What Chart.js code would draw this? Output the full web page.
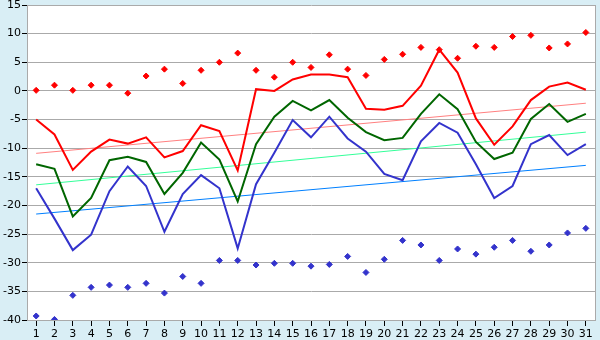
<!DOCTYPE html>
<html>
<head>
<meta charset="utf-8">
<script src="https://cdn.jsdelivr.net/npm/chart.js@4/dist/chart.umd.min.js"></script>
<style>
  html, body { margin: 0; padding: 0; background: #d9eef5; }
  #wrap { width: 600px; height: 340px; position: relative; }
</style>
</head>
<body>
<div id="wrap"><canvas id="chart"></canvas></div>
<script>
// day labels
var days = ['1','2','3','4','5','6','7','8','9','10','11','12','13','14','15','16',
    '17','18','19','20','21','22','23','24','25','26','27','28','29','30','31'];

// lines
var maxTemp = [-5.0, -7.6, -13.8, -10.6, -8.5, -9.2, -8.1, -11.6, -10.5, -6.0, -7.0, -13.9, 0.3, 0.0, 2.0, 2.85,
    2.85, 2.4, -3.1, -3.3, -2.6, 0.9, 7.2, 3.2, -4.8, -9.4, -6.2, -1.6, 0.75, 1.45, 0.2];
var meanTemp = [-12.8, -13.6, -21.9, -18.7, -12.1, -11.5, -12.4, -18.0, -14.3, -9.0, -12.0, -19.3, -9.3, -4.5, -1.75, -3.4,
    -1.6, -4.7, -7.2, -8.6, -8.2, -4.0, -0.6, -3.2, -8.9, -11.9, -10.8, -4.9, -2.3, -5.4, -4.0];
var minTemp = [-17.0, -22.3, -27.8, -25.1, -17.5, -13.2, -16.6, -24.6, -18.0, -14.7, -17.0, -27.5, -16.3, -10.8, -5.1, -8.1,
    -4.5, -8.3, -10.6, -14.5, -15.6, -8.8, -5.6, -7.3, -12.8, -18.7, -16.6, -9.3, -7.7, -11.2, -9.3];

// extreme points
var recordHigh = [0.1, 1.0, 0.1, 1.0, 1.0, -0.4, 2.6, 3.8, 1.3, 3.6, 5.0, 6.6, 3.6, 2.4, 5.0, 4.1,
    6.3, 3.8, 2.7, 5.5, 6.4, 7.6, 7.2, 5.7, 7.8, 7.6, 9.5, 9.7, 7.5, 8.2, 10.2];
var recordLow = [-39.3, -39.9, -35.7, -34.3, -33.9, -34.3, -33.6, -35.3, -32.4, -33.6, -29.6, -29.6, -30.4, -30.1, -30.1, -30.6,
    -30.3, -28.9, -31.7, -29.4, -26.1, -26.9, -29.6, -27.6, -28.5, -27.3, -26.1, -28.0, -26.9, -24.8, -24.0];

// trend lines: value at day 1 and day 31
var maxTrend = [-10.9, -2.15];
var meanTrend = [-16.4, -7.2];
var minTrend = [-21.5, -13.0];

var yTicks = [15, 10, 5, 0, -5, -10, -15, -20, -25, -30, -35, -40];

function trendData(ends) {
    var arr = days.map(function () { return null; });
    arr[0] = ends[0];
    arr[arr.length - 1] = ends[1];
    return arr;
}

var plotBg = {
    id: 'plotBg',
    beforeDraw: function (chart) {
        var a = chart.chartArea;
        var ctx = chart.ctx;
        ctx.save();
        ctx.fillStyle = '#ffffff';
        ctx.fillRect(a.left, a.top, a.right - a.left, a.bottom - a.top);
        ctx.restore();
    },
    afterDraw: function (chart) {
        var a = chart.chartArea;
        var ctx = chart.ctx;
        ctx.save();
        ctx.strokeStyle = '#aaaaaa';
        ctx.lineWidth = 1;
        ctx.beginPath();
        ctx.moveTo(Math.round(a.right) + 0.5, a.top);
        ctx.lineTo(Math.round(a.right) + 0.5, a.bottom);
        ctx.stroke();
        ctx.restore();
    }
};

function lineSet(data, color, width) {
    return {
        data: data,
        borderColor: color,
        backgroundColor: color,
        borderWidth: width,
        pointRadius: 0,
        tension: 0,
        fill: false,
        spanGaps: true
    };
}

function pointSet(data, color) {
    return {
        data: data,
        showLine: false,
        borderColor: color,
        backgroundColor: color,
        pointStyle: 'rectRot',
        pointRadius: 3,
        pointBorderWidth: 1
    };
}

Chart.defaults.font.family = '"DejaVu Sans", Verdana, sans-serif';
Chart.defaults.font.size = 11;
Chart.defaults.color = '#000000';

new Chart(document.getElementById('chart'), {
    type: 'line',
    data: {
        labels: days,
        datasets: [
            pointSet(recordHigh, '#ff0000'),
            pointSet(recordLow, '#3333cc'),
            lineSet(maxTemp, '#ff0000', 2),
            lineSet(meanTemp, '#006600', 2),
            lineSet(minTemp, '#3333cc', 2),
            lineSet(trendData(maxTrend), '#ff8080', 1),
            lineSet(trendData(meanTrend), '#33ff99', 1),
            lineSet(trendData(minTrend), '#0080ff', 1)
        ]
    },
    options: {
        responsive: true,
        maintainAspectRatio: false,
        animation: false,
        layout: { padding: { top: 5, right: 5, left: 0, bottom: 0 } },
        plugins: {
            legend: { display: false },
            tooltip: { enabled: false }
        },
        scales: {
            x: {
                type: 'category',
                offset: true,
                border: { color: '#aaaaaa' },
                grid: {
                    offset: false,
                    drawOnChartArea: false,
                    drawTicks: true,
                    tickLength: 6,
                    tickColor: '#000000'
                },
                ticks: { padding: 2, maxRotation: 0, autoSkip: false },
                afterFit: function (scale) { scale.height = 20; }
            },
            y: {
                min: -40,
                max: 15,
                border: { color: '#aaaaaa' },
                grid: {
                    color: '#aaaaaa',
                    tickLength: 5,
                    tickColor: '#000000'
                },
                ticks: {
                    stepSize: 5,
                    padding: 1,
                    callback: function (v) { return yTicks.indexOf(v) >= 0 ? String(v) : ''; }
                },
                afterFit: function (scale) {
                    scale.width = 27;
                    scale.paddingTop = 0;
                    scale.paddingBottom = 0;
                }
            }
        }
    },
    plugins: [plotBg]
});
</script>
</body>
</html>
